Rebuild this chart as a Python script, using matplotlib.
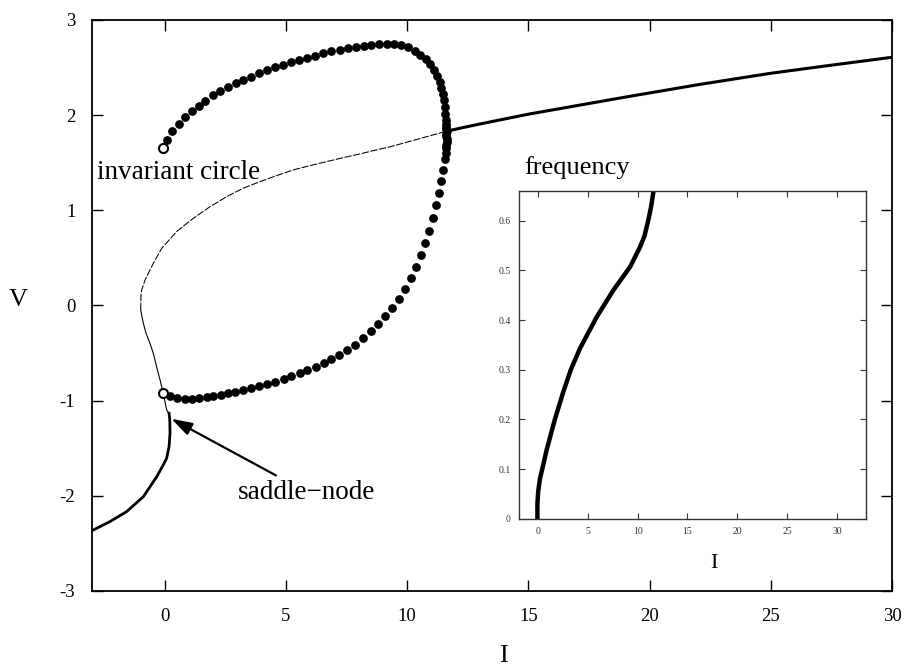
import matplotlib
matplotlib.use("Agg")
import matplotlib.pyplot as plt

plt.rcParams['font.family'] = ['Liberation Serif', 'DejaVu Serif']
plt.rcParams['axes.unicode_minus'] = False

# ---- equilibrium curve (I, V) ----
stable_low_I = [-3.0, -2.25, -1.57, -0.88, -0.33, -0.06, 0.08, 0.18, 0.22, 0.21, 0.18]
stable_low_V = [-2.366, -2.27, -2.166, -2.009, -1.80, -1.676, -1.606, -1.483, -1.343, -1.203, -1.133]

saddle_I = [0.18, 0.08, -0.06, -0.19, -0.30, -0.47, -0.61, -0.77, -0.88, -0.95, -0.99]
saddle_V = [-1.133, -1.098, -0.922, -0.783, -0.678, -0.502, -0.397, -0.292, -0.187, -0.10, -0.047]

unstable_I = [-0.99, -0.98, -0.95, -0.81, -0.47, -0.12, 0.49, 1.18, 1.87, 2.55, 3.24,
              3.93, 4.61, 5.30, 5.99, 6.67, 7.36, 8.05, 8.73, 9.28, 11.55]
unstable_V = [-0.047, 0.093, 0.163, 0.268, 0.443, 0.601, 0.776, 0.916, 1.038, 1.143, 1.232,
              1.301, 1.364, 1.424, 1.469, 1.511, 1.553, 1.592, 1.635, 1.666, 1.826]

stable_high_I = [11.55, 12.17, 13.0, 15.0, 17.0, 19.1, 22.0, 25.0, 27.5, 30.0]
stable_high_V = [1.826, 1.862, 1.907, 2.01, 2.10, 2.194, 2.32, 2.44, 2.525, 2.608]

# ---- periodic orbit: maximum of V ----
cycle_max_I = [0.11, 0.30, 0.59, 0.82, 1.11, 1.40, 1.67, 1.98, 2.29, 2.61, 2.93,
               3.24, 3.54, 3.87, 4.22, 4.54, 4.90, 5.22, 5.55, 5.85, 6.19, 6.54,
               6.88, 7.22, 7.57, 7.88, 8.22, 8.53, 8.84, 9.15, 9.45, 9.76, 10.04,
               10.31, 10.55, 10.77, 10.96, 11.11, 11.23, 11.34, 11.41, 11.48, 11.51,
               11.55, 11.58, 11.59, 11.61, 11.62, 11.62, 11.63]
cycle_max_V = [1.739, 1.837, 1.904, 1.977, 2.047, 2.100, 2.152, 2.212, 2.254, 2.296, 2.338,
               2.370, 2.404, 2.440, 2.471, 2.503, 2.530, 2.555, 2.580, 2.604, 2.625, 2.650,
               2.671, 2.688, 2.702, 2.720, 2.730, 2.741, 2.748, 2.748, 2.748, 2.734, 2.713,
               2.678, 2.636, 2.587, 2.534, 2.475, 2.412, 2.352, 2.289, 2.222, 2.159,
               2.082, 2.012, 1.949, 1.91, 1.88, 1.85, 1.83]

# ---- periodic orbit: minimum of V ----
cycle_min_I = [0.22, 0.52, 0.84, 1.14, 1.43, 1.73, 2.00, 2.31, 2.62, 2.92, 3.24,
               3.58, 3.90, 4.23, 4.57, 4.92, 5.23, 5.57, 5.89, 6.23, 6.56, 6.88,
               7.19, 7.52, 7.84, 8.18, 8.49, 8.80, 9.09, 9.38, 9.65, 9.90, 10.15,
               10.36, 10.56, 10.75, 10.90, 11.07, 11.21, 11.32, 11.41, 11.48, 11.55,
               11.60, 11.61, 11.62, 11.63, 11.63, 11.62, 11.62]
cycle_min_V = [-0.947, -0.969, -0.979, -0.979, -0.972, -0.965, -0.951, -0.937, -0.923, -0.909, -0.888,
               -0.867, -0.846, -0.825, -0.800, -0.769, -0.741, -0.713, -0.678, -0.643, -0.604, -0.562,
               -0.517, -0.467, -0.415, -0.338, -0.268, -0.194, -0.114, -0.023, 0.072, 0.177, 0.292,
               0.408, 0.531, 0.653, 0.783, 0.923, 1.053, 1.186, 1.311, 1.424, 1.536,
               1.60, 1.65, 1.69, 1.72, 1.75, 1.78, 1.80]

# homoclinic end points of the orbit
homoclinic_I = [-0.08, -0.06]
homoclinic_V = [1.652, -0.922]

# ---- frequency vs I ----
freq_I = [-0.05, -0.05, 0.03, 0.2, 0.53, 0.87, 1.7, 2.54, 3.3, 4.22, 5.89,
          7.56, 9.24, 10.24, 10.7, 11.07, 11.35, 11.58]
freq_f = [0.0, 0.03, 0.055, 0.080, 0.108, 0.138, 0.200, 0.255, 0.300, 0.343, 0.406,
          0.460, 0.507, 0.547, 0.570, 0.601, 0.628, 0.658]

main_xticks = [0, 5, 10, 15, 20, 25, 30]
main_yticks = [-3, -2, -1, 0, 1, 2, 3]
inset_xticks = [0, 5, 10, 15, 20, 25, 30]
inset_yticks = [0, 0.1, 0.2, 0.3, 0.4, 0.5, 0.6]

fig = plt.figure(figsize=(9.06, 6.68), dpi=100)
ax = fig.add_axes([0.1015, 0.1153, 0.883, 0.8548])

ax.plot(stable_low_I, stable_low_V, color='black', lw=2.0, solid_joinstyle='round')
ax.plot(saddle_I, saddle_V, color='black', lw=0.8)
ax.plot(unstable_I, unstable_V, color='black', lw=0.75, dashes=(7, 1.5))
ax.plot(stable_high_I, stable_high_V, color='black', lw=2.2)

ax.plot(cycle_max_I, cycle_max_V, 'o', color='black', ms=6.3, mew=0)
ax.plot(cycle_min_I, cycle_min_V, 'o', color='black', ms=6.3, mew=0)
ax.plot(homoclinic_I, homoclinic_V, 'o', mfc='white', mec='black', ms=6.5, mew=1.5)

ax.set_xlim(-3, 30)
ax.set_ylim(-3, 3)
ax.set_xticks(main_xticks)
ax.set_yticks(main_yticks)
ax.tick_params(direction='in', top=True, right=True, length=8, width=1.0,
               labelsize=13.5, pad=12)
for s in ax.spines.values():
    s.set_linewidth(1.3)

ax.set_xlabel('I', fontsize=19)
ax.xaxis.set_label_coords(0.514, -0.094)
ax.set_ylabel('V', fontsize=19, rotation=0, va='center')
ax.yaxis.set_label_coords(-0.0925, 0.51)

ax.text(-2.78, 1.40, 'invariant circle', fontsize=19.5, ha='left', va='center')
ax.annotate('saddle\u2212node', xy=(0.27, -1.19), xytext=(3.02, -1.96),
            fontsize=19.5, ha='left', va='center',
            arrowprops=dict(arrowstyle='-|>,head_length=0.7,head_width=0.22',
                            color='black', lw=1.6,
                            mutation_scale=18, shrinkA=2, shrinkB=0))

# inset: firing frequency
axi = fig.add_axes([0.5728, 0.2235, 0.383, 0.4906])
axi.plot(freq_I, freq_f, color='black', lw=3.2, solid_capstyle='round',
         solid_joinstyle='round')
axi.set_xlim(-1.9, 32.9)
axi.set_ylim(0, 0.66)
axi.set_xticks(inset_xticks)
axi.set_yticks(inset_yticks)
axi.set_yticklabels(['0', '0.1', '0.2', '0.3', '0.4', '0.5', '0.6'])
axi.tick_params(direction='in', top=True, right=True, length=4, width=0.8,
                labelsize=7, pad=6, colors='#333333')
for s in axi.spines.values():
    s.set_linewidth(1.0)
    s.set_color('#333333')
axi.set_xlabel('I', fontsize=16)
axi.xaxis.set_label_coords(0.562, -0.108)
axi.text(0.014, 1.073, 'frequency', transform=axi.transAxes, fontsize=19,
         ha='left', va='center')

fig.savefig('out.png', dpi=100)
